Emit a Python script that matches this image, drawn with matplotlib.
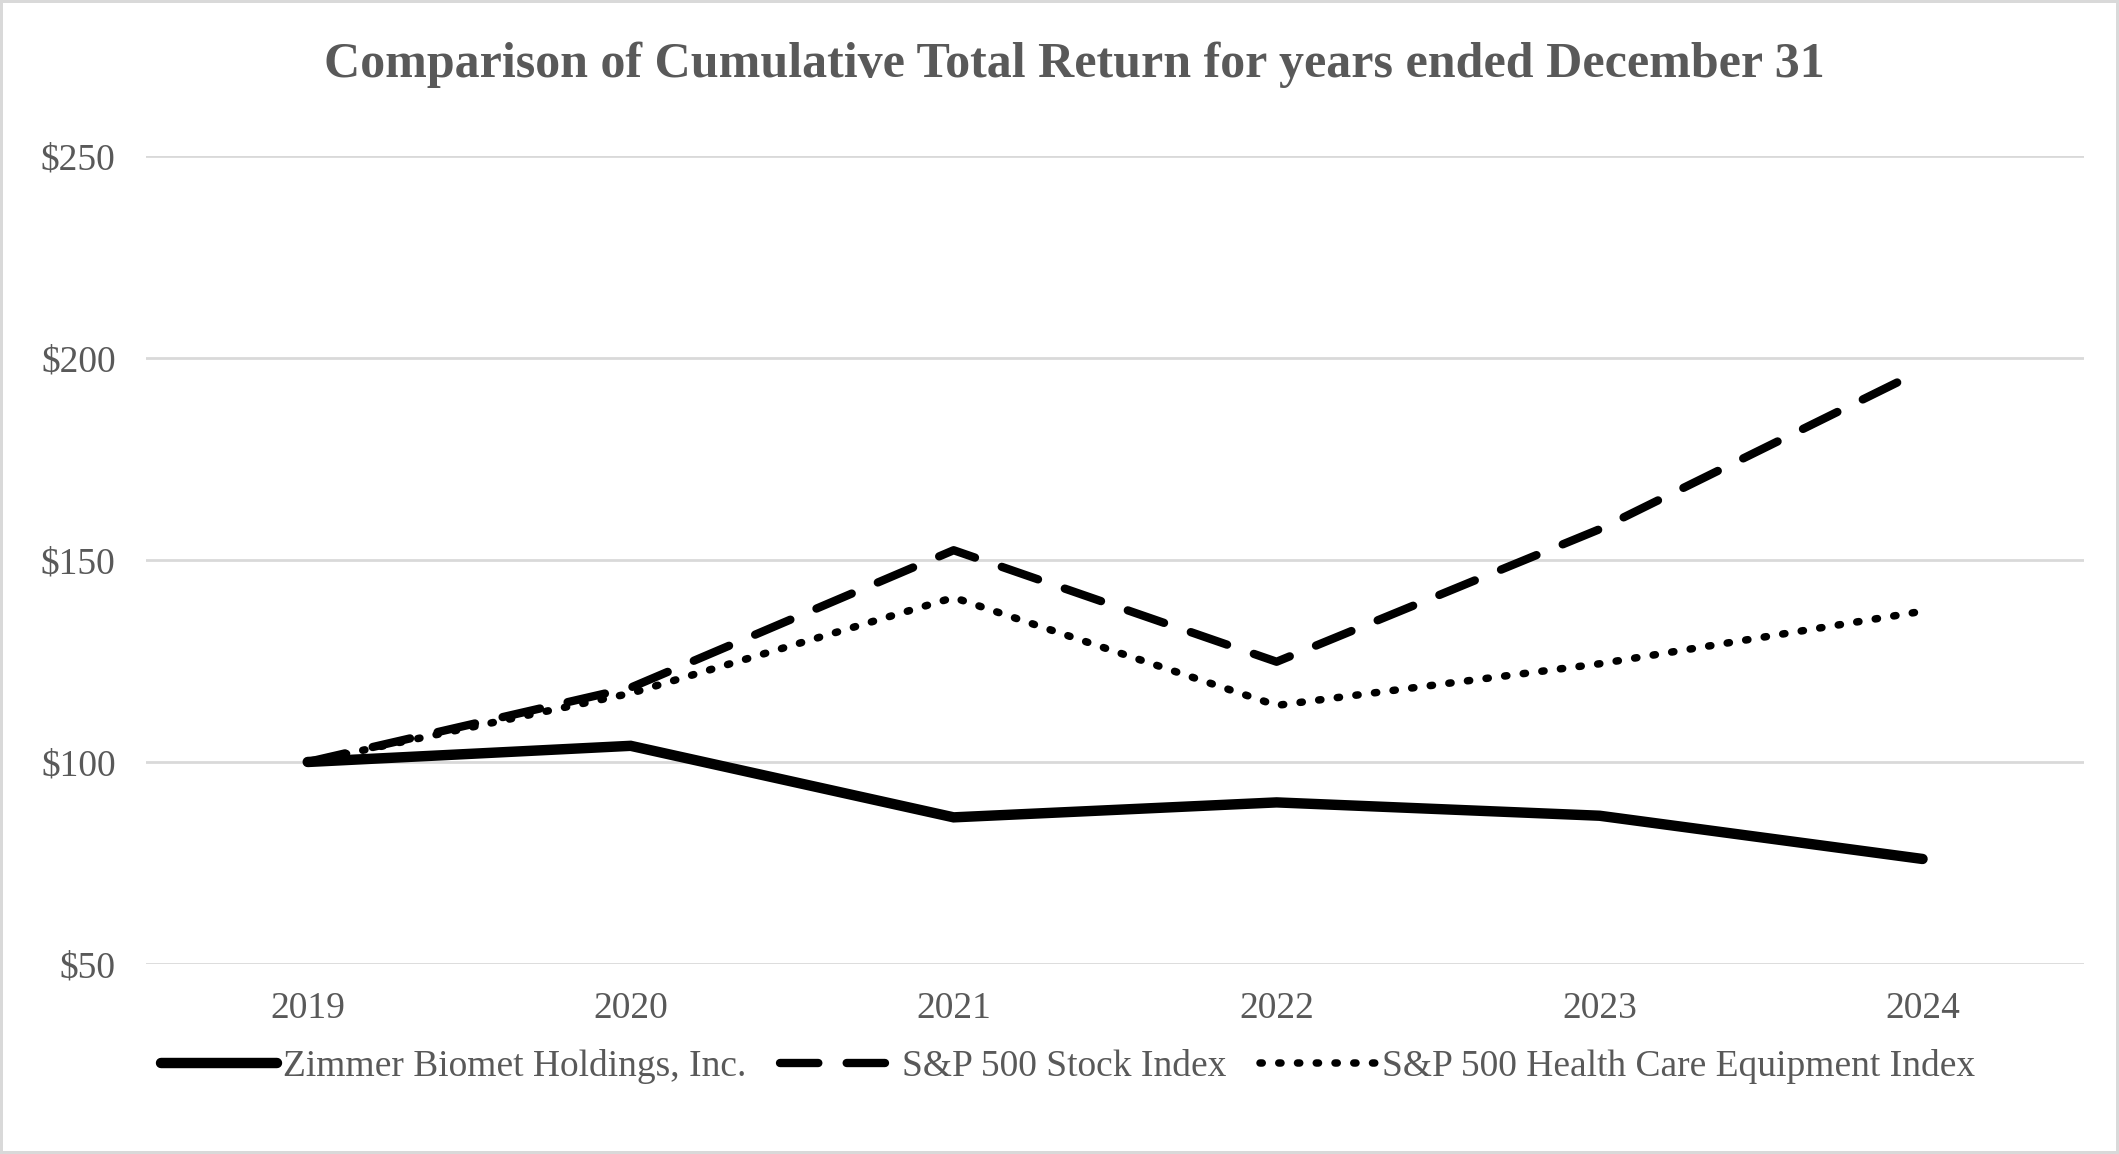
import matplotlib
matplotlib.use("Agg")
import matplotlib.pyplot as plt

YEARS = ["2019", "2020", "2021", "2022", "2023", "2024"]
ZIMMER = [100, 104.0, 86.3, 90.0, 86.7, 76.0]
SP500 = [100, 118.4, 152.4, 124.8, 157.6, 197.0]
SP500_HCE = [100, 117.0, 140.7, 114.0, 124.3, 137.3]

Y_TICKS = [50, 100, 150, 200, 250]

GRAY_TEXT = "#595959"
GRID = "#d9d9d9"

plt.rcParams["font.family"] = ["Liberation Serif", "DejaVu Serif"]

fig = plt.figure(figsize=(21.19, 11.54), dpi=100)
fig.patch.set_edgecolor(GRID)
fig.patch.set_linewidth(3)
ax = fig.add_axes([0.069, 0.1646, 0.9145, 0.7004])

x = list(range(len(YEARS)))
ax.plot(x, ZIMMER, color="black", lw=7.5, solid_capstyle="round",
        solid_joinstyle="miter", label="Zimmer Biomet Holdings, Inc.")
ax.plot(x, SP500, color="black", lw=6, linestyle=(0, (4.6, 3.4)),
        dash_capstyle="round", label="S&P 500 Stock Index")
ax.plot(x, SP500_HCE, color="black", lw=5.4, linestyle=(0, (0.3, 2.2)),
        dash_capstyle="round", label="S&P 500 Health Care Equipment Index")

ax.set_xlim(-0.5, len(YEARS) - 0.5)
ax.set_ylim(50, 250)
ax.set_xticks(x)
ax.set_xticklabels(YEARS)
ax.set_yticks(Y_TICKS)
ax.set_yticklabels([f"${v}" for v in Y_TICKS])
ax.tick_params(axis="both", length=0, labelsize=27, labelcolor=GRAY_TEXT)
ax.tick_params(axis="x", pad=20)
ax.tick_params(axis="y", pad=22)
ax.grid(axis="y", color=GRID, lw=2)
ax.set_axisbelow(True)
for s in ax.spines.values():
    s.set_visible(False)

fig.text(0.507, 0.944, "Comparison of Cumulative Total Return for years ended December 31",
         ha="center", va="center", fontsize=36, fontweight="bold", color=GRAY_TEXT)

leg = fig.legend(loc="center", bbox_to_anchor=(0.504, 0.076), ncol=3, frameon=False,
                 fontsize=27, handlelength=3.1, handletextpad=0.15, columnspacing=0.9,
                 labelcolor=GRAY_TEXT)

fig.savefig("out.png", dpi=100)
